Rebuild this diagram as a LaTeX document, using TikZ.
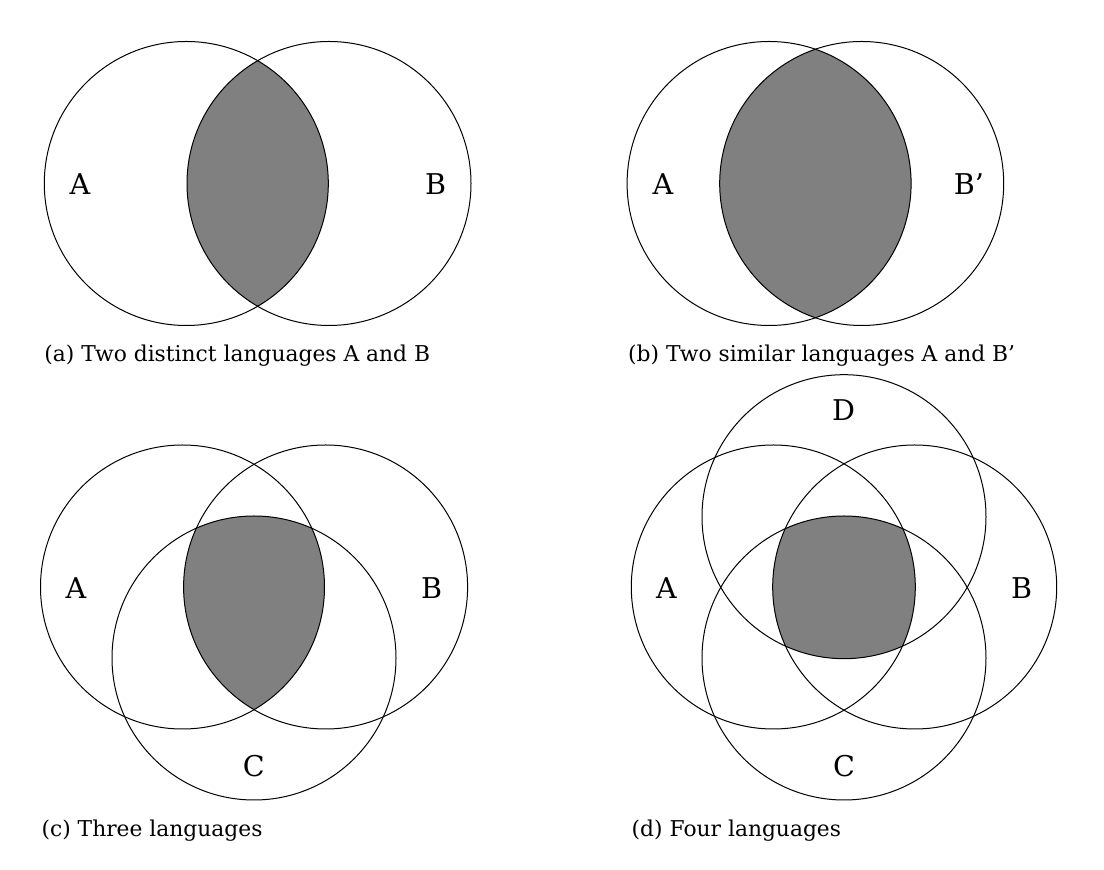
\documentclass[tikz,border=0pt]{standalone}
\usepackage{fontspec}
\setmainfont{DejaVu Serif}
\begin{document}
\begin{tikzpicture}[x=0.5pt,y=-0.5pt,
  ring/.style={draw=black,line width=0.5pt},
  common/.style={fill=gray},
  setlabel/.style={inner sep=0pt,font=\fontsize{14.3}{16}\selectfont},
  captext/.style={inner sep=0pt,anchor=base west,font=\fontsize{10.9}{13}\selectfont}]
\useasboundingbox (0,0) rectangle (1104,870);
% centres
\coordinate (a1) at (186.3,183.5);
\coordinate (a2) at (329,183.5);
\coordinate (b1) at (769.1,183.5);
\coordinate (b2) at (861.7,183.5);
\coordinate (c1) at (182.5,587);
\coordinate (c2) at (325.6,587);
\coordinate (c3) at (254,658);
\coordinate (d1) at (773.3,587);
\coordinate (d2) at (914.7,587);
\coordinate (d3) at (844,658);
\coordinate (d4) at (844,516.7);
\def\R{142}
% (a)
\begin{scope}
  \clip (a1) circle[radius=\R];
  \fill[common] (a2) circle[radius=\R];
\end{scope}
\draw[ring] (a1) circle[radius=\R];
\draw[ring] (a2) circle[radius=\R];
\node[setlabel] (la1) at (80,184) {A};
\node[setlabel] (la2) at (435.7,184) {B};
\node[captext] (capa) at (44,361.7) {(a) Two distinct languages A and B};
% (b)
\begin{scope}
  \clip (b1) circle[radius=\R];
  \fill[common] (b2) circle[radius=\R];
\end{scope}
\draw[ring] (b1) circle[radius=\R];
\draw[ring] (b2) circle[radius=\R];
\node[setlabel] (lb1) at (663,184) {A};
\node[setlabel] (lb2) at (969,184) {B’};
\node[captext] (capb) at (627.8,361.7) {(b) Two similar languages A and B’};
% (c)
\begin{scope}
  \clip (c1) circle[radius=\R];
  \clip (c2) circle[radius=\R];
  \fill[common] (c3) circle[radius=\R];
\end{scope}
\draw[ring] (c1) circle[radius=\R];
\draw[ring] (c2) circle[radius=\R];
\draw[ring] (c3) circle[radius=\R];
\node[setlabel] (lc1) at (76,588) {A};
\node[setlabel] (lc2) at (431.6,588) {B};
\node[setlabel] (lc3) at (253.7,765.7) {C};
\node[captext] (capc) at (41.2,836.7) {(c) Three languages};
% (d)
\begin{scope}
  \clip (d1) circle[radius=\R];
  \clip (d2) circle[radius=\R];
  \clip (d3) circle[radius=\R];
  \fill[common] (d4) circle[radius=\R];
\end{scope}
\draw[ring] (d1) circle[radius=\R];
\draw[ring] (d2) circle[radius=\R];
\draw[ring] (d3) circle[radius=\R];
\draw[ring] (d4) circle[radius=\R];
\node[setlabel] (ld1) at (666.5,588) {A};
\node[setlabel] (ld2) at (1021.7,588) {B};
\node[setlabel] (ld3) at (844,765.7) {C};
\node[setlabel] (ld4) at (843.5,410.5) {D};
\node[captext] (capd) at (631.3,836.7) {(d) Four languages};
\end{tikzpicture}
\end{document}
